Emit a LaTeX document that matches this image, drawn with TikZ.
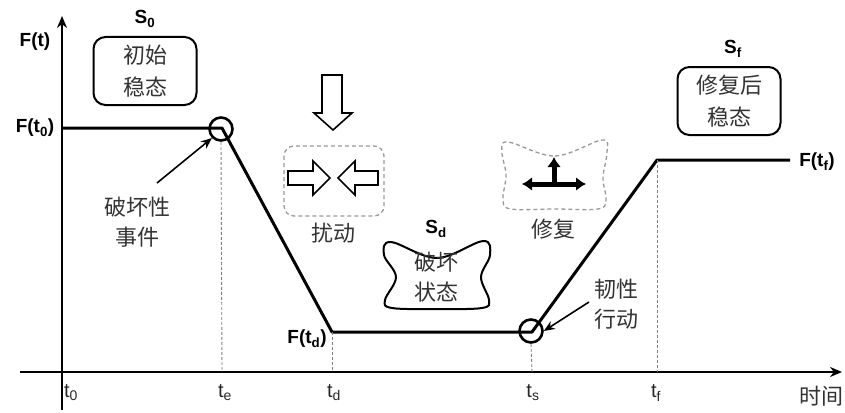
\documentclass[tikz,border=0pt]{standalone}
\usepackage{fontspec}
\setmainfont{Liberation Sans}
\newfontfamily\cjk{Noto Sans CJK SC}
\usetikzlibrary{arrows.meta}
\tikzset{
  lbl/.style={font=\bfseries\fontsize{19}{19}\selectfont, inner sep=0pt},
  cn/.style={font=\cjk\fontsize{22}{30}\selectfont, align=center, text=black!80, inner sep=0pt},
  ticklbl/.style={font=\fontsize{20}{20}\selectfont, text=black!85, inner sep=0pt},
  curve/.style={line width=3pt, line join=round},
  axis/.style={line width=2.6pt, -{Stealth[length=12pt,width=10pt]}},
  guide/.style={gray, line width=0.9pt, dash pattern=on 3pt off 2pt},
  ann/.style={line width=1.6pt, -{Stealth[length=11pt,width=9pt]}},
  statebox/.style={draw, line width=2pt, rounded corners=12pt, minimum width=103pt, minimum height=68pt, font=\cjk\fontsize{22}{32}\selectfont, align=center, text=black!80},
  ring/.style={circle, draw, line width=2.6pt, minimum size=23pt, inner sep=0pt},
  hollow/.style={draw, line width=1.6pt, line join=miter, fill=white},
  dashbox/.style={draw=gray!80, line width=1.3pt, dash pattern=on 4pt off 3pt},
}
\begin{document}
\begin{tikzpicture}[x=1pt,y=-1pt]
\useasboundingbox (0,0) rectangle (845,412);
% axes
\coordinate (ybot) at (62,410);
\coordinate (ytop) at (62,16);
\coordinate (xl) at (20,372);
\coordinate (xr) at (842,372);
\draw[axis] (ybot) -- (ytop);
\draw[axis] (xl) -- (xr);
\node[lbl] (Ft) at (35,42) {F(t)};
\node[lbl] (Ft0) at (35,128) {F(t\textsubscript{0})};
% curve points
\coordinate (p0) at (62,128);
\coordinate (pe) at (222,128);
\coordinate (pd) at (332,332);
\coordinate (ps) at (532,332);
\coordinate (pf) at (657,160);
\coordinate (pend) at (790,160);
\draw[curve] (p0) -- (pe) -- (pd) -- (ps) -- (pf) -- (pend);
\node[ring] (ce) at (221,129) {};
\node[ring] (cs) at (531,331) {};
% axis tick positions
\coordinate (xe) at (222,372);
\coordinate (xd) at (332,372);
\coordinate (xs) at (532,372);
\coordinate (xf) at (657,372);
\draw[guide] (ce.south) -- (xe);
\draw[guide] (pd) -- (xd);
\draw[guide] (cs.south) -- (xs);
\draw[guide] (pf) -- (xf);
% tick labels
\node[ticklbl] (t0) at (71,393) {t\textsubscript{0}};
\node[ticklbl] (te) at (225,393) {t\textsubscript{e}};
\node[ticklbl] (td) at (334,393) {t\textsubscript{d}};
\node[ticklbl] (ts) at (533,393) {t\textsubscript{s}};
\node[ticklbl] (tf) at (656,393) {t\textsubscript{f}};
\node[cn] (time) at (821,396) {时间};
\node[lbl] (Ftd) at (307,339) {F(t\textsubscript{d})};
\node[lbl] (Ftf) at (817,162) {F(t\textsubscript{f})};
% S0
\node[lbl] (S0) at (145,19) {S\textsubscript{0}};
\node[statebox] (box0) at (145,71) {初始\\稳态};
% Sf
\node[lbl] (Sf) at (733,49) {S\textsubscript{f}};
\node[statebox] (boxf) at (729,101) {修复后\\稳态};
% destructive event
\node[cn] (evt) at (137,222) {破坏性\\事件};
\draw[ann] (157,183) -- (ce.south west);
% disturbance
\draw[hollow] (322,75) -- (342,75) -- (342,113) -- (352,113) -- (333,130) -- (314,113) -- (322,113) -- cycle;
\draw[dashbox, rounded corners=10pt] (284,146) rectangle (384,216);
\draw[hollow] (288,171) -- (313,171) -- (313,161) -- (330,178) -- (313,195) -- (313,185) -- (288,185) -- cycle;
\draw[hollow] (378,171) -- (355,171) -- (355,161) -- (338,178) -- (355,195) -- (355,185) -- (378,185) -- cycle;
\node[cn] (dist) at (333,233) {扰动};
% damaged state
\node[lbl] (Sd) at (436,229) {S\textsubscript{d}};
\draw[line width=2pt] plot[smooth cycle, tension=0.6] coordinates {(391,242) (437,258) (483,241) (490,255) (481,277) (489,300) (482,308) (437,309) (392,308) (385,300) (396,277) (384,255)};
\node[cn] (dmg) at (436,277) {破坏\\状态};
% repair
\draw[dashbox] plot[smooth cycle, tension=0.6] coordinates {(508,142) (555,156) (602,140) (607,152) (603,178) (606,200) (598,209) (555,209) (511,209) (503,200) (506,175) (502,152)};
\draw[line width=5pt, {Latex[length=10pt,width=14pt]}-{Latex[length=10pt,width=14pt]}] (522,184) -- (586,184);
\draw[line width=5pt, -{Latex[length=10pt,width=14pt]}] (554,184) -- (554,157);
\node[cn] (rep) at (553,229) {修复};
% resilience action
\node[cn] (act) at (616,304) {韧性\\行动};
\draw[ann] (589,302) -- (cs.east);
\end{tikzpicture}
\end{document}
